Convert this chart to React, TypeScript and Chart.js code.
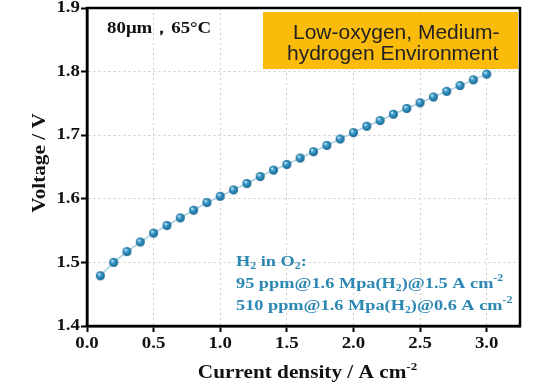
import React, { useEffect, useRef } from "react";
import { Chart, registerables } from "chart.js";

Chart.register(...registerables);

const currentDensity = [
  0.1, 0.2, 0.3, 0.4, 0.5, 0.6, 0.7, 0.8, 0.9, 1.0,
  1.1, 1.2, 1.3, 1.4, 1.5, 1.6, 1.7, 1.8, 1.9, 2.0,
  2.1, 2.2, 2.3, 2.4, 2.5, 2.6, 2.7, 2.8, 2.9, 3.0,
];
const voltage = [
  1.479, 1.5, 1.517, 1.532, 1.546, 1.558, 1.57, 1.582, 1.594, 1.604,
  1.614, 1.624, 1.635, 1.645, 1.654, 1.664, 1.674, 1.684, 1.694, 1.704,
  1.714, 1.723, 1.733, 1.742, 1.751, 1.76, 1.769, 1.778, 1.787, 1.796,
];
const xTickValues = [0, 0.5, 1.0, 1.5, 2.0, 2.5, 3.0];
const yTickValues = [1.4, 1.5, 1.6, 1.7, 1.8, 1.9];

const conditionLabel = "80μm，65°C";
const envLines = ["Low-oxygen, Medium-", "hydrogen Environment"];
type Seg = { t: string; sub?: boolean; sup?: boolean };
const h2Lines: Seg[][] = [
  [{ t: "H" }, { t: "2", sub: true }, { t: " in O" }, { t: "2", sub: true }, { t: ":" }],
  [{ t: "95 ppm@1.6 Mpa(H" }, { t: "2", sub: true }, { t: ")@1.5 A cm" }, { t: "-2", sup: true }],
  [{ t: "510 ppm@1.6 Mpa(H" }, { t: "2", sub: true }, { t: ")@0.6 A cm" }, { t: "-2", sup: true }],
];
const xTitle: Seg[] = [{ t: "Current density / A cm" }, { t: "-2", sup: true }];
const yTitle: Seg[] = [{ t: "Voltage / V" }];

const SERIF = "'Liberation Serif', 'Times New Roman', serif";
const SANS = "'Liberation Sans', Arial, sans-serif";
const STRETCH = 1.18;

function richWidth(ctx: CanvasRenderingContext2D, segs: Seg[], size: number) {
  let total = 0;
  segs.forEach((s) => {
    ctx.font = `bold ${s.sub || s.sup ? Math.round(size * 0.62) : size}px ${SERIF}`;
    total += ctx.measureText(s.t).width;
  });
  return total;
}

function drawRich(
  ctx: CanvasRenderingContext2D,
  segs: Seg[],
  x: number,
  y: number,
  size: number,
  color: string,
  align: "left" | "center" | "right" = "left",
  baseline: CanvasTextBaseline = "alphabetic",
  rotate = 0
) {
  const total = richWidth(ctx, segs, size);
  ctx.save();
  ctx.translate(x, y);
  if (rotate) ctx.rotate(rotate);
  ctx.scale(STRETCH, 1);
  let cx = align === "center" ? -total / 2 : align === "right" ? -total : 0;
  ctx.fillStyle = color;
  ctx.textAlign = "left";
  ctx.textBaseline = baseline;
  segs.forEach((s) => {
    ctx.font = `bold ${s.sub || s.sup ? Math.round(size * 0.62) : size}px ${SERIF}`;
    const dy = s.sub ? size * 0.22 : s.sup ? -size * 0.42 : 0;
    ctx.fillText(s.t, cx, dy);
    cx += ctx.measureText(s.t).width;
  });
  ctx.restore();
}

function makeSphere(r: number): HTMLCanvasElement {
  const c = document.createElement("canvas");
  const d = r * 2 + 2;
  c.width = d;
  c.height = d;
  const g = c.getContext("2d")!;
  const cx = d / 2;
  const grad = g.createRadialGradient(cx - r * 0.35, cx - r * 0.4, 0.3, cx, cx, r);
  grad.addColorStop(0, "#d8f2ff");
  grad.addColorStop(0.3, "#4ba6d3");
  grad.addColorStop(0.75, "#1f7aa8");
  grad.addColorStop(1, "#145c84");
  g.fillStyle = grad;
  g.beginPath();
  g.arc(cx, cx, r, 0, Math.PI * 2);
  g.fill();
  return c;
}

const decorPlugin = {
  id: "decor",
  afterDraw(chart: any) {
    const ctx: CanvasRenderingContext2D = chart.ctx;
    const a = chart.chartArea;
    const xs = chart.scales.x;
    const ys = chart.scales.y;
    ctx.save();
    ctx.setLineDash([]);
    ctx.strokeStyle = "#000";
    ctx.lineWidth = 2.5;
    ctx.strokeRect(a.left, a.top, a.right - a.left, a.bottom - a.top);

    xs.ticks.forEach((t: any) => {
      drawRich(ctx, [{ t: Number(t.value).toFixed(1) }], xs.getPixelForValue(t.value), a.bottom + 18, 16, "#111", "center", "middle");
    });
    ys.ticks.forEach((t: any) => {
      drawRich(ctx, [{ t: Number(t.value).toFixed(1) }], a.left - 7, ys.getPixelForValue(t.value), 16, "#111", "right", "middle");
    });

    drawRich(ctx, [{ t: conditionLabel }], a.left + 20, a.top + 25, 16, "#111");

    ctx.fillStyle = "#fbbb0a";
    ctx.fillRect(a.left + 176, a.top + 4, a.right - a.left - 178, 57);
    ctx.fillStyle = "#222";
    ctx.font = `21px ${SANS}`;
    ctx.textAlign = "left";
    ctx.textBaseline = "alphabetic";
    ctx.fillText(envLines[0], a.left + 206, a.top + 31);
    ctx.fillText(envLines[1], a.left + 200, a.top + 52);

    const blue = "#2d87b3";
    drawRich(ctx, h2Lines[0], a.left + 149, a.top + 258, 15.5, blue);
    drawRich(ctx, h2Lines[1], a.left + 149, a.top + 280, 15.5, blue);
    drawRich(ctx, h2Lines[2], a.left + 149, a.top + 302, 15.5, blue);

    drawRich(ctx, xTitle, (a.left + a.right) / 2 + 4, 378, 18, "#111", "center");
    drawRich(ctx, yTitle, 40, (a.top + a.bottom) / 2 - 4, 18, "#111", "center", "middle", -Math.PI / 2);
    ctx.restore();
  },
};

export default function App() {
  const ref = useRef<HTMLCanvasElement | null>(null);
  useEffect(() => {
    document.body.style.margin = "0";
    const canvas = ref.current!;
    const sphere = makeSphere(4.5);
    const chart = new Chart(canvas, {
      type: "line",
      data: {
        datasets: [
          {
            data: currentDensity.map((x, i) => ({ x, y: voltage[i] })),
            borderColor: "#a6d0e3",
            borderWidth: 1.5,
            pointStyle: sphere as any,
            pointRadius: 4.5,
            tension: 0,
          },
        ],
      },
      options: {
        animation: false,
        responsive: false,
        devicePixelRatio: 1,
        layout: { padding: { left: 0, right: 13, top: 8, bottom: 0 } },
        plugins: { legend: { display: false }, tooltip: { enabled: false }, title: { display: false } },
        scales: {
          x: {
            type: "linear",
            min: 0,
            max: 3.25,
            afterFit: (s: any) => { s.height = 59; },
            afterBuildTicks: (s: any) => { s.ticks = xTickValues.map((v) => ({ value: v })); },
            ticks: { display: false },
            grid: {
              color: "#cdcdcd",
              tickLength: 6,
              tickColor: "#000",
              tickWidth: 2,
              tickBorderDash: [],
            } as any,
            border: { display: true, color: "#000", width: 2.5, dash: [2, 3] } as any,
          },
          y: {
            type: "linear",
            min: 1.4,
            max: 1.9,
            afterFit: (s: any) => { s.width = 87; },
            afterBuildTicks: (s: any) => { s.ticks = yTickValues.map((v) => ({ value: v })); },
            ticks: { display: false },
            grid: {
              color: "#cdcdcd",
              tickLength: 6,
              tickColor: "#000",
              tickWidth: 2,
              tickBorderDash: [],
            } as any,
            border: { display: true, color: "#000", width: 2.5, dash: [2, 3] } as any,
          },
        },
      } as any,
      plugins: [decorPlugin],
    });
    return () => chart.destroy();
  }, []);
  return (
    <div style={{ width: 533, height: 385, background: "#fff" }}>
      <canvas ref={ref} width={533} height={385} style={{ display: "block" }} />
    </div>
  );
}
